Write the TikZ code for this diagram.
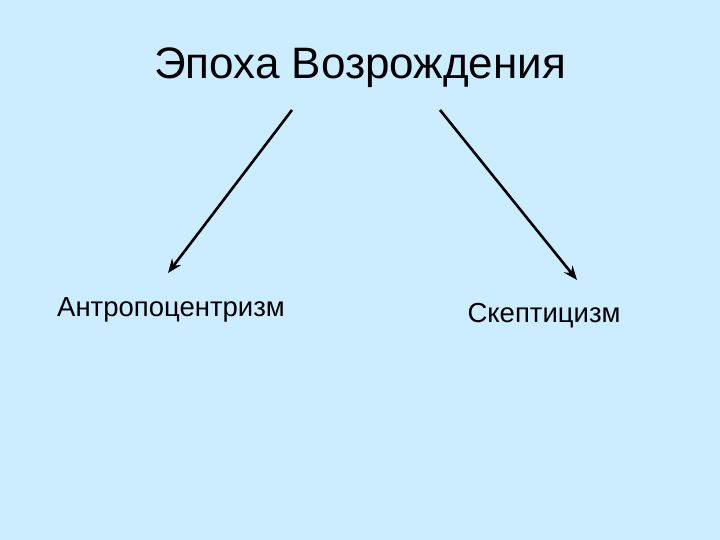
\documentclass[tikz,border=0pt]{standalone}
\usepackage{fontspec}
\setmainfont{Liberation Sans}
\usetikzlibrary{arrows.meta}
\begin{document}
\begin{tikzpicture}[x=1pt,y=-1pt,
  arr/.style={line width=2.6pt,-{Stealth[length=14pt,width=11pt]}},
  lbl/.style={inner sep=0pt,font=\fontsize{27.5}{32}\selectfont}]
\fill[fill={rgb,255:red,204;green,236;blue,255}] (0,0) rectangle (720,540);
\useasboundingbox (0,0) rectangle (720,540);
\node[inner sep=0pt,font=\fontsize{44}{50}\selectfont] (t) at (360,68) {Эпоха Возрождения};
\node[lbl] (a) at (171,310) {Антропоцентризм};
\node[lbl] (s) at (544,316) {Скептицизм};
\coordinate (l1) at (292,110); \coordinate (l2) at (168,273);
\coordinate (r1) at (440,110); \coordinate (r2) at (577,280);
\draw[arr] (l1) -- (l2);
\draw[arr] (r1) -- (r2);
\end{tikzpicture}
\end{document}
